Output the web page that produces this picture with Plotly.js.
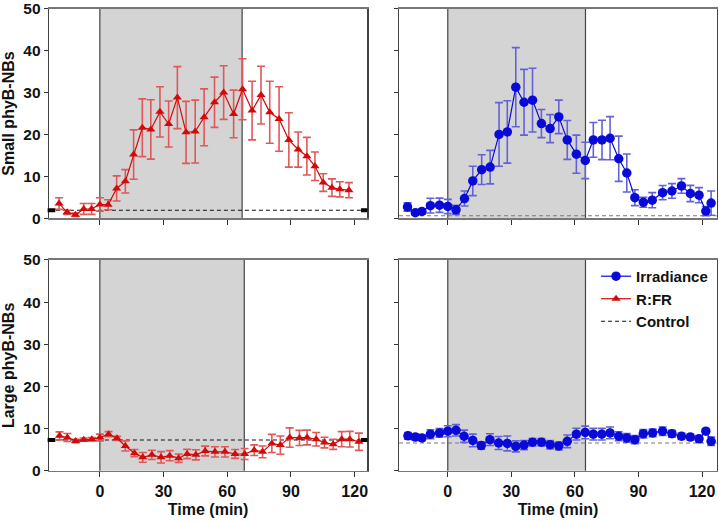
<!DOCTYPE html>
<html>
<head>
<meta charset="utf-8">
<script src="https://cdn.plot.ly/plotly-3.0.1.min.js"></script>
<style>
    html, body { margin: 0; padding: 0; background: #fff; }
    #chart { width: 719px; height: 522px; }
</style>
</head>
<body>
<div id="chart"></div>
<script>
/* global Plotly */

// R:FR, small phyB-NBs (top left)
const rfrSmallTime = [-19.2, -15.4, -11.5, -7.6, -3.9, 0, 3.9, 7.9, 12, 15.9, 20, 24, 28.3, 32.4, 36.5, 40.6, 44.9, 49.1, 54, 58.3, 63, 67.2, 71.7, 75.9, 80, 84.4, 89, 93.4, 97.5, 101.3, 105.2, 109.3, 113, 117.3];
const rfrSmallValue = [3.5, 1.4, 0.8, 2.2, 2.2, 3.3, 3.2, 7.1, 8.8, 15.2, 21.6, 21.2, 25.4, 22.5, 28.8, 20.5, 20.7, 24.1, 27.7, 30, 24.9, 30.8, 25.7, 29.4, 25.3, 23.7, 18.7, 16.4, 14.8, 12.4, 8.5, 7.3, 6.9, 6.7];
const rfrSmallError = [1.4, 0.5, 0.4, 1.3, 1.3, 1.6, 1.2, 3.0, 2.8, 5.9, 6.9, 7.1, 6.0, 5.5, 7.4, 7.4, 7.5, 6.8, 6.0, 6.4, 5.7, 7.3, 7.0, 6.9, 7.4, 7.7, 6.5, 4.2, 4.5, 3.4, 2.1, 2.1, 1.8, 1.8];

// Irradiance, small phyB-NBs (top right)
const irrSmallTime = [-19, -15.3, -12.2, -8.2, -3.9, 0, 3.9, 7.9, 11.8, 16, 20, 24.2, 28.1, 32.1, 36, 40, 44.2, 48.3, 52.4, 56.4, 60.7, 64.9, 68.7, 72.8, 76.6, 80.7, 84.5, 88.3, 92.3, 96.5, 101.4, 105.8, 110.3, 114.5, 118.6, 121.8, 124.3];
const irrSmallValue = [2.7, 1.3, 1.6, 3.0, 3.1, 2.8, 2.0, 4.7, 8.9, 11.6, 12.2, 20.0, 20.6, 31.3, 27.7, 28.2, 22.6, 21.4, 24.2, 18.7, 15.3, 13.8, 18.7, 18.7, 19.1, 14.2, 10.8, 4.9, 3.8, 4.3, 6.1, 6.5, 7.7, 5.9, 5.5, 1.7, 3.6];
const irrSmallError = [1.0, 0.5, 0.6, 1.75, 1.7, 1.7, 1.1, 1.8, 3.5, 3.55, 4.0, 7.6, 7.45, 9.45, 7.85, 7.6, 3.35, 3.35, 4.0, 4.65, 4.55, 4.35, 4.15, 4.7, 5.15, 5.4, 4.55, 1.9, 1.2, 1.8, 1.7, 1.75, 1.75, 1.95, 1.8, 1.1, 2.9];

// R:FR, large phyB-NBs (bottom left)
const rfrLargeTime = [-19, -15.3, -11.4, -7.6, -3.8, 0, 4.1, 8.1, 12, 16.3, 20.2, 24.5, 28.8, 32.9, 37.1, 41.1, 45.2, 49.6, 54.2, 58.9, 63.7, 68.2, 72.7, 76.6, 81, 85, 89.4, 94, 97.6, 101.9, 105.8, 109.9, 113.9, 117.7, 122];
const rfrLargeValue = [8.3, 7.9, 7.1, 7.4, 7.5, 7.9, 8.7, 7.7, 5.9, 4.2, 3.2, 3.8, 3.2, 3.6, 3.0, 4.0, 3.8, 4.7, 4.5, 4.5, 4.0, 4.0, 4.9, 4.5, 6.5, 6.1, 7.9, 7.8, 7.9, 7.5, 6.7, 6.3, 7.5, 7.5, 6.9];
const rfrLargeError = [0.95, 0.95, 0.4, 0.4, 0.4, 0.8, 0.6, 0.5, 1.2, 0.85, 1.15, 1.1, 1.35, 1.2, 1.0, 1.1, 1.2, 1.15, 1.2, 1.2, 1.05, 1.3, 1.25, 1.4, 2.15, 2.15, 2.3, 1.8, 1.75, 1.6, 1.25, 1.2, 1.8, 1.85, 2.05];

// Irradiance, large phyB-NBs (bottom right)
const irrLargeTime = [-18.8, -15.3, -12.2, -8.2, -3.9, 0, 3.9, 7.7, 11.8, 15.8, 19.9, 24, 28.1, 32.1, 36, 40, 44.2, 48.3, 52.4, 56.4, 60.7, 64.9, 68.7, 72.7, 76.6, 80.7, 84.5, 88.3, 92.3, 96.7, 101.4, 105.8, 110.3, 114.5, 118.6, 121.8, 124.3];
const irrLargeValue = [8.3, 8.0, 7.8, 8.7, 9.0, 9.4, 9.6, 8.2, 7.2, 6.0, 7.4, 6.6, 6.5, 5.8, 6.1, 6.8, 6.8, 6.2, 5.9, 7.0, 8.7, 9.1, 8.7, 8.7, 9.0, 8.2, 7.8, 7.4, 8.8, 9.0, 9.4, 8.8, 8.2, 8.0, 7.6, 9.4, 7.0];
const irrLargeError = [0.8, 0.7, 0.6, 1.05, 1.0, 1.3, 1.35, 1.45, 1.5, 0.87, 1.38, 1.54, 1.77, 1.3, 1.1, 0.87, 0.87, 1.0, 0.94, 1.5, 1.4, 1.5, 1.38, 1.38, 1.38, 1.06, 1.02, 0.94, 0.98, 0.9, 0.98, 0.8, 0.75, 0.7, 0.75, 0.5, 1.0];

// control levels: TL, TR, BL, BR
const controlLevel = [1.9, 0.6, 7.3, 6.6];
// end of the treatment window (min), per panel
const treatmentEnd = [67, 65, 68, 65];

const xTicks = [0, 30, 60, 90, 120];
const yTicks = [0, 10, 20, 30, 40, 50];
const xRangeLeft = [-24, 126];
const xRangeRight = [-23, 127];

const RED = '#d20a0a';
const RED_ERR = '#e05858';
const BLUE = '#0a0ad8';
const BLUE_ERR = '#6262d6';
const FONT = 'Liberation Sans, Arial, sans-serif';

function buildSeries(time, value, error, axisId, isIrradiance, showLegend) {
    return {
        x: time,
        y: value,
        xaxis: 'x' + axisId,
        yaxis: 'y' + axisId,
        type: 'scatter',
        mode: 'lines+markers',
        name: isIrradiance ? 'Irradiance' : 'R:FR',
        legendrank: isIrradiance ? 1 : 2,
        showlegend: showLegend,
        line: { color: isIrradiance ? BLUE : RED, width: 1.2 },
        marker: {
            color: isIrradiance ? BLUE : RED,
            symbol: isIrradiance ? 'circle' : 'triangle-up',
            size: isIrradiance ? 9.5 : 8
        },
        error_y: {
            type: 'data',
            array: error,
            visible: true,
            color: isIrradiance ? BLUE_ERR : RED_ERR,
            thickness: 1.6,
            width: 4
        },
        cliponaxis: false
    };
}

function buildControl(level, range, axisId, isLeft, showLegend) {
    return {
        x: range,
        y: [level, level],
        xaxis: 'x' + axisId,
        yaxis: 'y' + axisId,
        type: 'scatter',
        mode: 'lines',
        name: 'Control',
        legendrank: 3,
        showlegend: showLegend,
        line: { color: isLeft ? '#111' : '#777', width: 1.1, dash: '4px,3px' },
        hoverinfo: 'skip'
    };
}

function xAxis(domain, range, anchor, showLabels) {
    return {
        domain,
        range,
        anchor,
        tickvals: xTicks,
        ticks: 'outside',
        ticklen: 5,
        tickcolor: '#333',
        showticklabels: showLabels,
        tickfont: { family: FONT, size: 16, color: '#111', weight: 'bold' },
        title: showLabels ? { text: 'Time (min)', font: { family: FONT, size: 16, color: '#111', weight: 'bold' }, standoff: 5 } : { text: '' },
        showline: true,
        linecolor: '#777',
        linewidth: 1.5,
        mirror: true,
        showgrid: false,
        zeroline: false,
        fixedrange: true
    };
}

function yAxis(domain, anchor, title, showLabels) {
    return {
        domain,
        anchor,
        range: [0, 50],
        tickvals: yTicks,
        ticks: 'outside',
        ticklen: 4,
        tickcolor: '#333',
        showticklabels: showLabels,
        ticklabeloverflow: 'allow',
        tickfont: { family: FONT, size: 15.5, color: '#111', weight: 'bold' },
        title: { text: title, font: { family: FONT, size: 16, color: '#111', weight: 'bold' }, standoff: 7 },
        showline: true,
        linecolor: '#444',
        linewidth: 1.2,
        mirror: true,
        showgrid: false,
        zeroline: false,
        fixedrange: true
    };
}

function panelShapes(axisId, end, level, withCaps) {
    const xref = 'x' + axisId;
    const yref = 'y' + axisId;
    const shapes = [
        { type: 'rect', xref, yref: yref + ' domain', x0: 0, x1: end, y0: 0, y1: 1, fillcolor: '#d4d4d4', line: { width: 0 }, layer: 'below' },
        { type: 'line', xref, yref: yref + ' domain', x0: 0, x1: 0, y0: 0, y1: 1, line: { color: '#444', width: 1.2 }, layer: 'below' },
        { type: 'line', xref, yref: yref + ' domain', x0: end, x1: end, y0: 0, y1: 1, line: { color: '#444', width: 1.2 }, layer: 'below' }
    ];
    if (withCaps) {
        shapes.push({ type: 'line', xref: xref + ' domain', yref, x0: -0.004, x1: 0.02, y0: level, y1: level, line: { color: '#000', width: 4 } });
        shapes.push({ type: 'line', xref: xref + ' domain', yref, x0: 0.98, x1: 1.0, y0: level, y1: level, line: { color: '#000', width: 4 } });
    }
    return shapes;
}

const traces = [
    buildControl(controlLevel[0], xRangeLeft, '', true, false),
    buildControl(controlLevel[1], xRangeRight, '2', false, false),
    buildControl(controlLevel[2], xRangeLeft, '3', true, true),
    buildControl(controlLevel[3], xRangeRight, '4', false, false),
    buildSeries(rfrSmallTime, rfrSmallValue, rfrSmallError, '', false, false),
    buildSeries(irrSmallTime, irrSmallValue, irrSmallError, '2', true, false),
    buildSeries(rfrLargeTime, rfrLargeValue, rfrLargeError, '3', false, true),
    buildSeries(irrLargeTime, irrLargeValue, irrLargeError, '4', true, true)
];

const leftDomain = [0.068, 0.511];
const rightDomain = [0.555, 0.997];
const topDomain = [0.582, 0.983];
const bottomDomain = [0.098, 0.502];

const layout = {
    width: 719,
    height: 522,
    margin: { l: 0, r: 0, t: 0, b: 0 },
    paper_bgcolor: '#fff',
    plot_bgcolor: '#fff',
    font: { family: FONT, color: '#111' },
    xaxis: xAxis(leftDomain, xRangeLeft, 'y', false),
    xaxis2: xAxis(rightDomain, xRangeRight, 'y2', false),
    xaxis3: xAxis(leftDomain, xRangeLeft, 'y3', true),
    xaxis4: xAxis(rightDomain, xRangeRight, 'y4', true),
    yaxis: yAxis(topDomain, 'x', 'Small phyB-NBs', true),
    yaxis2: yAxis(topDomain, 'x2', '', false),
    yaxis3: yAxis(bottomDomain, 'x3', 'Large phyB-NBs', true),
    yaxis4: yAxis(bottomDomain, 'x4', '', false),
    shapes: [].concat(
        panelShapes('', treatmentEnd[0], controlLevel[0], true),
        panelShapes('2', treatmentEnd[1], controlLevel[1], false),
        panelShapes('3', treatmentEnd[2], controlLevel[2], true),
        panelShapes('4', treatmentEnd[3], controlLevel[3], false)
    ),
    showlegend: true,
    legend: {
        x: 0.829,
        y: 0.502,
        xanchor: 'left',
        yanchor: 'top',
        bgcolor: 'rgba(255,255,255,0)',
        font: { family: FONT, size: 15, color: '#111', weight: 'bold' },
        tracegroupgap: 0,
        itemwidth: 30
    }
};

Plotly.newPlot('chart', traces, layout, {
    displayModeBar: false,
    staticPlot: true
});
</script>
</body>
</html>
